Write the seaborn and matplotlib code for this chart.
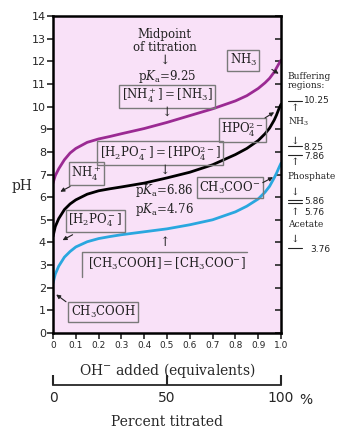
import numpy as np
import pandas as pd
import matplotlib
matplotlib.use("Agg")
import matplotlib.pyplot as plt
import matplotlib.transforms as mtransforms
import seaborn as sns
from matplotlib.lines import Line2D

# ---- data ----
equiv = [0, 0.01, 0.025, 0.05, 0.075, 0.1, 0.15, 0.2, 0.25, 0.3, 0.4, 0.5, 0.6, 0.7,
         0.8, 0.85, 0.9, 0.93, 0.95, 0.97, 0.98, 0.99, 1.0]
ph_acetate = [2.2, 2.6, 2.95, 3.35, 3.6, 3.8, 4.03, 4.17, 4.26, 4.34, 4.47, 4.6, 4.78, 5.0,
              5.35, 5.6, 5.92, 6.22, 6.48, 6.85, 7.05, 7.28, 7.5]
ph_phosphate = [4.26, 4.7, 5.05, 5.45, 5.7, 5.88, 6.13, 6.28, 6.37, 6.45, 6.62, 6.85, 7.1, 7.43,
                7.88, 8.15, 8.5, 8.8, 9.05, 9.4, 9.62, 9.88, 10.1]
ph_ammonia = [6.62, 6.95, 7.25, 7.65, 7.95, 8.15, 8.42, 8.57, 8.68, 8.8, 9.03, 9.3, 9.6, 9.9,
              10.25, 10.48, 10.8, 11.05, 11.25, 11.52, 11.7, 11.88, 12.05]
x_ticks = [0, 0.1, 0.2, 0.3, 0.4, 0.5, 0.6, 0.7, 0.8, 0.9, 1.0]
x_tick_labels = ["0", "0.1", "0.2", "0.3", "0.4", "0.5", "0.6", "0.7", "0.8", "0.9", "1.0"]
y_ticks = list(range(0, 15))
pct_ticks = [0, 0.5, 1.0]
pct_labels = ["0", "50", "100"]

PURPLE = "#9B2A93"
BLUE = "#2AA7DF"
BG = "#F9E1F8"
BOXEDGE = "#7a7a7a"
INK = "#222222"

sns.set_style("ticks")
plt.rcParams["font.family"] = ["DejaVu Serif"]
plt.rcParams["mathtext.fontset"] = "dejavuserif"

df = pd.concat([
    pd.DataFrame({"equiv": equiv, "pH": ph_ammonia, "acid": "NH4"}),
    pd.DataFrame({"equiv": equiv, "pH": ph_phosphate, "acid": "H2PO4"}),
    pd.DataFrame({"equiv": equiv, "pH": ph_acetate, "acid": "CH3COOH"}),
])

fig = plt.figure(figsize=(3.4, 4.3), dpi=100)
ax = fig.add_axes([53 / 340, (430 - 333) / 430, 228 / 340, 317 / 430])
ax.set_facecolor(BG)
sns.lineplot(data=df, x="equiv", y="pH", hue="acid",
             palette={"NH4": PURPLE, "H2PO4": "black", "CH3COOH": BLUE},
             linewidth=2.0, legend=False, ax=ax, sort=False)
for ln in ax.lines:
    ln.set_solid_joinstyle("round")
    ln.set_solid_capstyle("round")
ax.set_xlim(0, 1)
ax.set_ylim(0, 14)
ax.set_xticks(x_ticks, labels=x_tick_labels)
ax.set_yticks(y_ticks)
ax.set_xlabel("")
ax.set_ylabel("")
for s in ax.spines.values():
    s.set_linewidth(1.8)
    s.set_color("black")
    s.set_visible(True)
ax.tick_params(axis="y", which="both", left=True, right=True, direction="out",
               length=4, width=1.2, labelsize=8, pad=1)
ax.tick_params(axis="x", length=4, width=1.2, labelsize=6.5, pad=2)
for lab in ax.get_xticklabels() + ax.get_yticklabels():
    lab.set_family("DejaVu Sans")
for t in ax.yaxis.get_major_ticks():
    t.tick2line.set_marker(matplotlib.markers.TICKLEFT)

fs = 8.5
box = dict(boxstyle="square,pad=0.2", fc="none", ec=BOXEDGE, lw=1.0)

def T(x, y, s, bbox=None, **kw):
    kw.setdefault("fontsize", fs)
    ax.text(x, y, s, ha="center", va="center", bbox=bbox, color=INK, **kw)

def arrow(x0, y0, x1, y1):
    ax.annotate("", xy=(x1, y1), xytext=(x0, y0),
                arrowprops=dict(arrowstyle="-|>", lw=0.8, color=INK,
                                mutation_scale=6, shrinkA=0, shrinkB=0))

T(0.49, 13.2, "Midpoint")
T(0.49, 12.62, "of titration")
T(0.49, 12.05, "↓", fontsize=9)
T(0.5, 11.35, r"p$K_\mathrm{a}$=9.25")
T(0.5, 10.46, r"$\mathrm{[NH_4^+]=[NH_3]}$", bbox=box)
T(0.5, 9.73, "↓", fontsize=9)
T(0.835, 12.04, r"$\mathrm{NH_3}$", bbox=box)
arrow(0.96, 11.64, 0.99, 11.45)
T(0.83, 8.98, r"$\mathrm{HPO_4^{2-}}$", bbox=box)
arrow(0.93, 9.5, 0.97, 9.75)
T(0.47, 7.96, r"$\mathrm{[H_2PO_4^-]=[HPO_4^{2-}]}$", bbox=box)
T(0.49, 7.2, "↓", fontsize=9)
T(0.49, 6.28, r"p$K_\mathrm{a}$=6.86")
T(0.49, 5.44, r"p$K_\mathrm{a}$=4.76")
T(0.775, 6.42, r"$\mathrm{CH_3COO^{-}}$", bbox=box)
arrow(0.92, 6.64, 0.965, 6.88)
T(0.145, 7.04, r"$\mathrm{NH_4^+}$", bbox=box)
arrow(0.075, 6.47, 0.032, 6.24)
T(0.185, 4.96, r"$\mathrm{[H_2PO_4^-]}$", bbox=box)
arrow(0.086, 4.34, 0.042, 4.1)
T(0.49, 3.98, "↑", fontsize=9)
T(0.5, 3.05, r"$\mathrm{[CH_3COOH]=[CH_3COO^{-}]}$")
# open bracket-style frame (top and left only)
ax.add_line(Line2D([0.127, 0.127, 0.85], [2.48, 3.58, 3.58], color=BOXEDGE, lw=1.0))
T(0.22, 0.93, r"$\mathrm{CH_3COOH}$", bbox=box)
arrow(0.057, 1.38, 0.014, 1.7)

# y label
fig.text(22 / 340, 1 - 186 / 430, "pH", fontsize=10, ha="center", va="center")

# right-hand buffering column (axes-x, data-y)
tr = mtransforms.blended_transform_factory(ax.transAxes, ax.transData)
rfs = 6.5
def R(x, y, s, **kw):
    kw.setdefault("fontsize", rfs)
    ax.text(x, y, s, transform=tr, clip_on=False, ha="left", va="center",
            color=INK, **kw)
def RL(y):
    ax.add_line(Line2D([1.03, 1.09], [y, y], transform=tr, clip_on=False,
                       color=INK, lw=0.8))
R(1.03, 11.35, "Buffering")
R(1.03, 10.95, "regions:")
RL(10.25); R(1.10, 10.25, "10.25", family="DejaVu Sans")
R(1.045, 9.93, "↑", fontsize=7.5)
R(1.03, 9.34, r"$\mathrm{NH_3}$")
R(1.045, 8.45, "↓", fontsize=7.5)
RL(8.25); R(1.10, 8.2, "8.25", family="DejaVu Sans")
RL(7.86); R(1.10, 7.8, "7.86", family="DejaVu Sans")
R(1.045, 7.55, "↑", fontsize=7.5)
R(1.03, 6.9, "Phosphate")
R(1.045, 6.2, "↓", fontsize=7.5)
RL(5.86); RL(5.76)
R(1.10, 5.81, "5.86", family="DejaVu Sans")
R(1.045, 5.3, "↑", fontsize=7.5)
R(1.10, 5.32, "5.76", family="DejaVu Sans")
R(1.03, 4.78, "Acetate")
R(1.045, 4.12, "↓", fontsize=7.5)
RL(3.76); R(1.13, 3.7, "3.76", family="DejaVu Sans")

# x label and percent axis
fig.text(167 / 340, 1 - 371 / 430, r"OH$^{-}$ added (equivalents)", fontsize=10,
         ha="center", va="center")
sec = ax.secondary_xaxis(-0.164)
sec.set_xticks(pct_ticks, labels=pct_labels)
sec.tick_params(direction="in", length=7, width=1.5, labelsize=10, pad=4)
sec.spines["bottom"].set_linewidth(1.3)
for lab in sec.get_xticklabels():
    lab.set_family("DejaVu Sans")
fig.text(306 / 340, 1 - 400 / 430, "%", fontsize=10, ha="center", va="center",
         family="DejaVu Sans")
fig.text(167 / 340, 1 - 422 / 430, "Percent titrated", fontsize=10,
         ha="center", va="center")

fig.savefig("out.png", dpi=100)
